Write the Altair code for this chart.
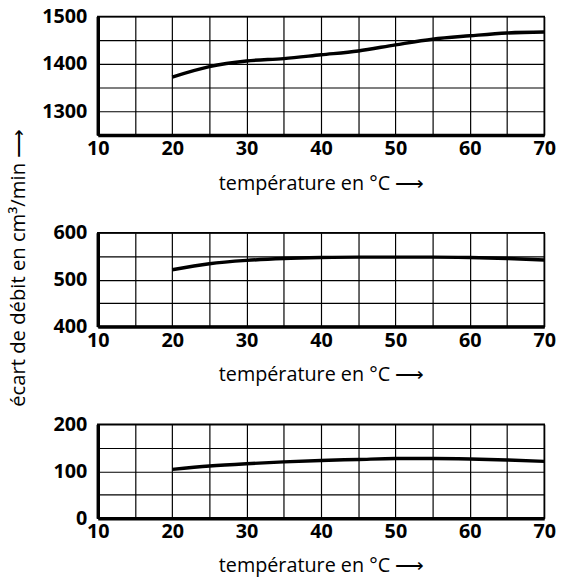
import altair as alt
import pandas as pd

temps = [20, 25, 30, 35, 40, 45, 50, 55, 60, 65, 70]
flow_top = [1372, 1394, 1406, 1411, 1419, 1427, 1440, 1452, 1459, 1465, 1467]
flow_mid = [521, 534, 541, 545, 547, 548, 548, 548, 547, 545, 542]
flow_bot = [104, 111, 116, 120, 123, 125, 127, 127, 126, 124, 121]

x_ticks = list(range(10, 71, 5))
x_title = "température en °C ⟶"
y_title = "écart de débit en cm³/min ⟶"

LABEL_FONT = "Open Sans"
TITLE_FONT = "Open Sans"
W = 452


def panel(values, lo, hi, height, show_ytitle=False, title_pad=13):
    df = pd.DataFrame({"t": temps, "v": values})
    yvals = list(range(lo, hi + 1, 50))
    ykw = dict(
        values=yvals,
        format="d",
        labelExpr="datum.value % 100 == 0 ? datum.label : ''",
        labelPadding=11,
    )
    if show_ytitle:
        ykw.update(title=y_title, titleX=-80, titleY=35, titleBaseline="middle",
                   titleAngle=-90, titleAlign="center", titleFontSize=20.5)
    else:
        ykw.update(title=None)
    yaxis = alt.Axis(**ykw)
    xaxis = alt.Axis(
        values=x_ticks,
        format="d",
        labelExpr="datum.value % 10 == 0 ? datum.label : ''",
        title=x_title,
        labelPadding=4,
        titlePadding=title_pad,
    )
    return alt.Chart(df).mark_line(
        color="black", strokeWidth=3.5, interpolate="monotone", clip=True
    ).encode(
        x=alt.X("t:Q", scale=alt.Scale(domain=[10, 70], nice=False, zero=False), axis=xaxis),
        y=alt.Y("v:Q", scale=alt.Scale(domain=[lo, hi], nice=False, zero=False), axis=yaxis),
    ).properties(width=W, height=height)


chart = alt.vconcat(
    panel(flow_top, 1250, 1500, 120, title_pad=15),
    panel(flow_mid, 400, 600, 95, show_ytitle=True, title_pad=15),
    panel(flow_bot, 0, 200, 95, title_pad=14),
    spacing=99,
    bounds="flush",
).properties(
    padding={"left": 8, "top": 2, "right": 5, "bottom": 0},
    background="white",
).configure_view(
    stroke="black", strokeWidth=1.5
).configure_axis(
    labelFont=LABEL_FONT,
    labelFontSize=20,
    labelFontWeight="bold",
    labelColor="black",
    labelFlush=False,
    labelOverlap=False,
    ticks=False,
    tickSize=0,
    domainColor="black",
    domainWidth=3.5,
    grid=True,
    gridColor="black",
    gridWidth=1.2,
    gridOpacity=1,
    titleFont=TITLE_FONT,
    titleFontSize=20,
    titleFontWeight="normal",
    titleColor="black",
)

chart.save("out.html", embed_options={"renderer": "svg", "actions": False})
